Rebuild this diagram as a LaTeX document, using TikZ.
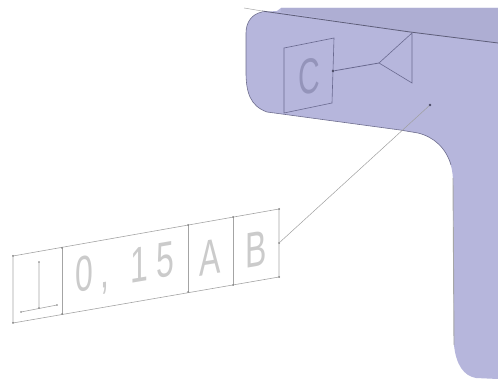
\documentclass[tikz,border=0pt]{standalone}
\usepackage{fontspec}
\setmainfont{Liberation Sans}
\definecolor{partfill}{HTML}{B6B6DC}
\definecolor{bandfill}{HTML}{AEAED3}
\definecolor{edgecol}{HTML}{6E6E8E}
\definecolor{framecol}{HTML}{A4A4A4}
\definecolor{textcol}{HTML}{CBCBCB}
\definecolor{insidecol}{HTML}{6A6A90}
\tikzset{
  framel/.style={draw=framecol,line width=0.6pt},
  insidel/.style={draw=insidecol,line width=0.6pt},
  lbl/.style={text=textcol,font=\fontsize{50}{50}\selectfont,inner sep=0pt,transform shape,yslant=0.17,xscale=0.64},
  dotn/.style={circle,fill=#1,inner sep=0pt,minimum size=2.6pt},
}
\begin{document}
\begin{tikzpicture}[x=1pt,y=-1pt]
\useasboundingbox (0,0) rectangle (498,379);
% part body
\fill[partfill] (498,8) -- (281,8) -- (277,11) -- (262,12)
  .. controls (252,14) and (246,22) .. (246,33)
  -- (246,72) .. controls (246,92) and (250,106) .. (267,112)
  -- (400,130) -- (418,133)
  .. controls (434,137) and (452,150) .. (453,180)
  -- (454,345) .. controls (456,365) and (464,376) .. (476,378)
  -- (498,379) -- cycle;
\fill[bandfill] (281,8) -- (498,8) -- (498,43) -- (410,32) -- (281,12) -- cycle;
% outline
\draw[edgecol,line width=0.6pt] (262,12)
  .. controls (252,14) and (246,22) .. (246,33)
  -- (246,72) .. controls (246,92) and (250,106) .. (267,112)
  -- (400,130) -- (418,133)
  .. controls (434,137) and (446,148) .. (451,165);
\draw[gray!70,line width=0.9pt] (453,178) -- (454,345);
\draw[gray!70,line width=0.5pt] (244,8) -- (262,11);
\draw[edgecol!85!black,line width=0.8pt] (262,11) -- (410,32) -- (498,43);
% datum feature
\coordinate (c1) at (284,48); \coordinate (c2) at (334,38);
\coordinate (c3) at (332,103); \coordinate (c4) at (284,113);
\draw[insidel] (c1) -- (c2) -- (c3) -- (c4) -- cycle;
\node[font=\fontsize{50}{50}\selectfont,text=insidecol!45!partfill,inner sep=0pt,transform shape,yslant=0.17,xscale=0.6] (cl) at (309,76) {C};
\node[dotn=insidecol!70!black] (cd) at (333,71) {};
\coordinate (tl) at (379,63); \coordinate (tt) at (412,33); \coordinate (tb) at (412,83);
\draw[insidel] (tt) -- (tl) -- (tb) -- cycle;
\draw[insidel,line width=0.8pt] (cd) -- (tl);
% tolerance frame
\coordinate (a1) at (13,256); \coordinate (a2) at (62,248); \coordinate (a3) at (188,225);
\coordinate (a4) at (233,217); \coordinate (a5) at (279,209);
\coordinate (b1) at (13,323); \coordinate (b2) at (62,314); \coordinate (b3) at (188,292);
\coordinate (b4) at (233,285); \coordinate (b5) at (279,277);
\draw[framel] (a1) -- (a5) -- (b5) -- (b1) -- cycle;
\draw[framel] (a2) -- (b2) (a3) -- (b3) (a4) -- (b4);
\foreach \p in {a1,a2,a3,a4,a5,b1,b2,b3,b4,b5}
  \fill[framecol!80!black] (\p) circle (1pt);
% symbol
\coordinate (s1) at (39,262); \coordinate (s2) at (39,308);
\coordinate (s3) at (21,312); \coordinate (s4) at (57,305);
\draw[framel] (s1) -- (s2) (s3) -- (s4);
\foreach \p in {s1,s2,s3,s4} \fill[framecol!80!black] (\p) circle (0.9pt);
% labels
\node[lbl] (val) at (125,270) {0\kern10pt,\kern34pt 1\kern12pt 5};
\node[lbl] (la) at (210,257) {A};
\node[lbl] (lb) at (256,249) {B};
% leader
\coordinate (bm) at (279,243);
\node[dotn=insidecol!70!black] (ld) at (430,105) {};
\fill[framecol!80!black] (bm) circle (1pt);
\draw[gray!75,line width=0.5pt] (bm) -- (ld);
\end{tikzpicture}
\end{document}
